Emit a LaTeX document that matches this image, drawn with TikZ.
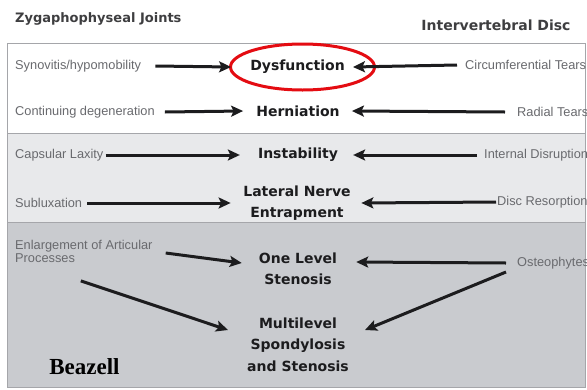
\documentclass[tikz,border=0pt]{standalone}
\usepackage{fontspec}
\usepackage{xcolor}
\usetikzlibrary{arrows.meta}
\newfontfamily\sidefont{Liberation Sans}
\newfontfamily\keyfont{DejaVu Sans}
\newfontfamily\signfont{Liberation Serif}
\definecolor{panelgray}{RGB}{232,233,235}
\definecolor{paneldark}{RGB}{201,203,207}
\definecolor{rimgray}{RGB}{165,166,170}
\definecolor{sidegray}{RGB}{105,106,110}
\definecolor{keyblack}{RGB}{28,28,30}
\definecolor{ovalred}{RGB}{228,12,18}
\tikzset{
  side/.style={font=\sidefont\fontsize{12.8}{13}\selectfont, text=sidegray, inner sep=0pt, anchor=west, align=left},
  key/.style={font=\keyfont\bfseries\fontsize{14}{21.5}\selectfont, text=keyblack, inner sep=0pt, align=center},
  head/.style={font=\keyfont\bfseries\fontsize{13}{15}\selectfont, text=keyblack!85, inner sep=0pt},
  arr/.style={draw=keyblack, line width=3pt, -{Stealth[length=12pt,width=11pt,inset=2.5pt]}}
}

\begin{document}
\begin{tikzpicture}[x=1pt,y=-1pt]
\useasboundingbox (0,0) rectangle (587,389);
% panels
\draw[rimgray,fill=white] (7,43) rectangle (585,133);
\draw[rimgray,fill=panelgray] (7,133) rectangle (585,222);
\draw[rimgray,fill=paneldark] (7,222) rectangle (585,387);
% headings
\node[head,anchor=west] (zyg) at (15,19) {Zygaphophyseal Joints};
\node[head,font=\keyfont\bfseries\fontsize{14}{16}\selectfont] (ivd) at (496,25) {Intervertebral Disc};
% facet joint causes
\node[side] (syn) at (15,66) {Synovitis/hypomobility};
\node[side] (cont) at (15,112) {Continuing degeneration};
\node[side] (caps) at (15,155) {Capsular Laxity};
\node[side] (subl) at (15,203) {Subluxation};
\node[side] (enl) at (15,251) {Enlargement of Articular\\Processes};
% disc causes
\node[side] (circ) at (465,65) {Circumferential Tears};
\node[side] (rad) at (517,112) {Radial Tears};
\node[side] (intd) at (484,155) {Internal Disruption};
\node[side] (resor) at (497,202) {Disc Resorption};
\node[side] (osteo) at (517,263) {Osteophytes};
% stages
\node[key] (dys) at (297.5,67) {Dysfunction};
\node[key] (hern) at (298,111) {Herniation};
\node[key] (inst) at (298,155) {Instability};
\node[key] (lat) at (297,203) {Lateral Nerve\\Entrapment};
\node[key] (one) at (298,269) {One Level\\Stenosis};
\node[key] (multi) at (298,344.5) {Multilevel\\Spondylosis\\and Stenosis};
% source
\node[font=\signfont\bfseries\fontsize{23}{27}\selectfont, inner sep=0pt] (bz) at (84.5,367) {Beazell};
% highlight
\draw[ovalred, line width=3pt] ([xshift=5pt]dys.center) ellipse [x radius=72, y radius=23];
% arrows
\draw[arr] ([xshift=14pt]syn.east) -- ([xshift=-19pt]dys.west);
\draw[arr] ([xshift=-8pt]circ.west) -- ([xshift=8pt]dys.east);
\draw[arr] ([xshift=10pt]cont.east) -- ([xshift=-13pt]hern.west);
\draw[arr] ([xshift=-12pt]rad.west) -- ([xshift=12pt]hern.east);
\draw[arr] ([xshift=2pt]caps.east) -- ([xshift=-18pt]inst.west);
\draw[arr] ([xshift=-7pt]intd.west) -- ([xshift=15pt]inst.east);
\draw[arr] ([xshift=5pt]subl.east) -- ([xshift=-12.5pt]lat.west);
\draw[arr] ([xshift=-1pt]resor.west) -- ([xshift=10.5pt]lat.east);
\draw[arr] ([shift={(13pt,-2pt)}]enl.east) -- ([shift={(-17pt,6pt)}]one.west);
\draw[arr] ([xshift=-11pt]osteo.west) -- ([shift={(19pt,7pt)}]one.east);
\draw[arr] ([shift={(-3pt,-18.5pt)}]enl.south) -- ([shift={(-19pt,14.5pt)}]multi.west);
\draw[arr] ([shift={(-11pt,-9pt)}]osteo.west) -- ([shift={(16pt,14.5pt)}]multi.east);
\end{tikzpicture}
\end{document}
